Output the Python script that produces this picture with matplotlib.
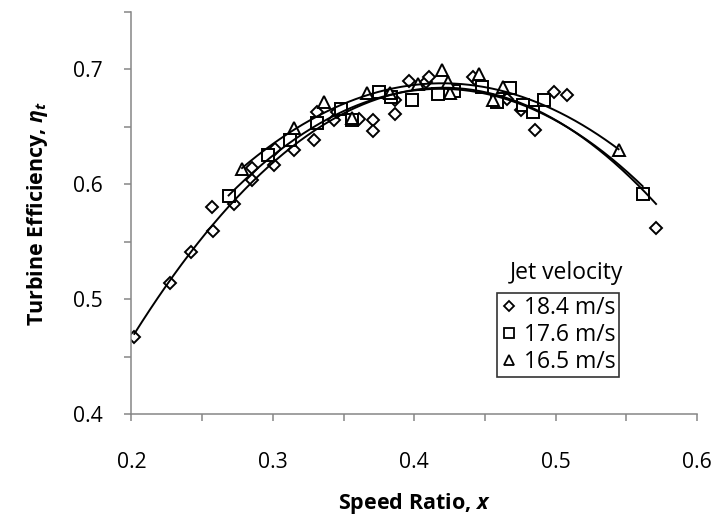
import numpy as np
import matplotlib
matplotlib.use("Agg")
import matplotlib.pyplot as plt
from matplotlib.lines import Line2D
from matplotlib.ticker import MultipleLocator

plt.rcParams['font.family'] = ['Open Sans', 'DejaVu Sans']
plt.rcParams['mathtext.fontset'] = 'custom'
plt.rcParams['mathtext.it'] = 'Open Sans:bold:italic'
plt.rcParams['mathtext.rm'] = 'Open Sans:bold'
plt.rcParams['mathtext.bf'] = 'Open Sans:bold'

# Series: Jet velocity 18.4 m/s (diamonds)
x_184 = [0.202, 0.2273, 0.2422, 0.2576, 0.2569, 0.2722, 0.2852, 0.2852, 0.3006, 0.3018,
         0.3148, 0.3289, 0.3313, 0.3431, 0.3455, 0.3609, 0.3711, 0.3711, 0.3862, 0.3862,
         0.3963, 0.4082, 0.4105, 0.4413, 0.4448, 0.4656, 0.4755, 0.4857, 0.4991, 0.5079, 0.571]
y_184 = [0.467, 0.514, 0.541, 0.559, 0.580, 0.583, 0.6035, 0.614, 0.6165, 0.631,
         0.6296, 0.639, 0.663, 0.6557, 0.663, 0.657, 0.6563, 0.6463, 0.661, 0.673,
         0.690, 0.689, 0.6933, 0.6933, 0.689, 0.6745, 0.6643, 0.6476, 0.6803, 0.678, 0.562]

# Series: Jet velocity 17.6 m/s (squares)
x_176 = [0.2687, 0.2963, 0.3119, 0.3309, 0.3479, 0.3562, 0.3748, 0.3833, 0.3987,
         0.4167, 0.4282, 0.4479, 0.4585, 0.4677, 0.4767, 0.4838, 0.4921, 0.5615]
y_176 = [0.5896, 0.6252, 0.6383, 0.6533, 0.6658, 0.6557, 0.6803, 0.6757, 0.6730,
         0.6783, 0.6809, 0.6843, 0.6713, 0.6839, 0.6687, 0.6629, 0.6730, 0.5919]

# Series: Jet velocity 16.5 m/s (triangles)
x_165 = [0.2782, 0.3148, 0.3360, 0.3562, 0.3668, 0.3828, 0.4023, 0.4195, 0.4252,
         0.4236, 0.4460, 0.4555, 0.4628, 0.5445]
y_165 = [0.6137, 0.6493, 0.6716, 0.6574, 0.6791, 0.6794, 0.6876, 0.6991, 0.6791,
         0.689, 0.6957, 0.6730, 0.6846, 0.6296]

labels = ['18.4 m/s', '17.6 m/s', '16.5 m/s']
markers = ['D', 's', '^']
msizes = [6.2, 9.0, 9.2]

fig = plt.figure(figsize=(7.15, 5.25), dpi=100)
ax = fig.add_axes([0.1839, 0.2114, 0.791, 0.7657])

series = [(x_184, y_184), (x_176, y_176), (x_165, y_165)]
handles = []
for (xs, ys), m, ms, lab in zip(series, markers, msizes, labels):
    xs = np.array(xs); ys = np.array(ys)
    coef = np.polyfit(xs, ys, 2)
    xf = np.linspace(xs.min(), xs.max(), 200)
    ax.plot(xf, np.polyval(coef, xf), color='black', lw=1.4, zorder=3)
    ax.plot(xs, ys, linestyle='none', marker=m, ms=ms, mfc='white', mec='black',
            mew=1.4, zorder=2)
    handles.append(Line2D([], [], linestyle='none', marker=m, ms=ms * 0.85, mfc='white',
                          mec='black', mew=1.3, label=lab))

ax.set_xlim(0.2, 0.6)
ax.set_ylim(0.4, 0.75)
ax.xaxis.set_minor_locator(MultipleLocator(0.05))
ax.yaxis.set_minor_locator(MultipleLocator(0.05))
ax.set_xticks([0.2, 0.3, 0.4, 0.5, 0.6])
ax.set_xticklabels(['0.2', '0.3', '0.4', '0.5', '0.6'])
ax.set_yticks([0.4, 0.5, 0.6, 0.7])
ax.set_yticklabels(['0.4', '0.5', '0.6', '0.7'])

for s in ['top', 'right']:
    ax.spines[s].set_visible(False)
for s in ['left', 'bottom']:
    ax.spines[s].set_color('#868686')
    ax.spines[s].set_linewidth(1.1)

ax.tick_params(which='both', direction='out', length=5, width=1.1, color='#868686')
ax.tick_params(axis='x', which='major', labelsize=15.2, pad=22, labelcolor='black')
ax.tick_params(axis='y', which='major', labelsize=15.2, pad=16, labelcolor='black')

ax.set_xlabel('Speed Ratio, $x$', fontsize=15.5, fontweight='bold', labelpad=13)
ax.set_ylabel('Turbine Efficiency, $\\eta_t$', fontsize=15.5, fontweight='bold', labelpad=16)

leg = ax.legend(handles=handles, loc='upper left', bbox_to_anchor=(0.646, 0.301),
                borderaxespad=0, frameon=True, fancybox=False, fontsize=16.5,
                handlelength=0.8, handletextpad=0.25, borderpad=0.15, labelspacing=0.12)
leg.get_frame().set_edgecolor('black')
leg.get_frame().set_linewidth(1.2)
ax.text(0.77, 0.351, 'Jet velocity', transform=ax.transAxes, ha='center', va='center',
        fontsize=16.5)

fig.savefig('out.png', dpi=100)
